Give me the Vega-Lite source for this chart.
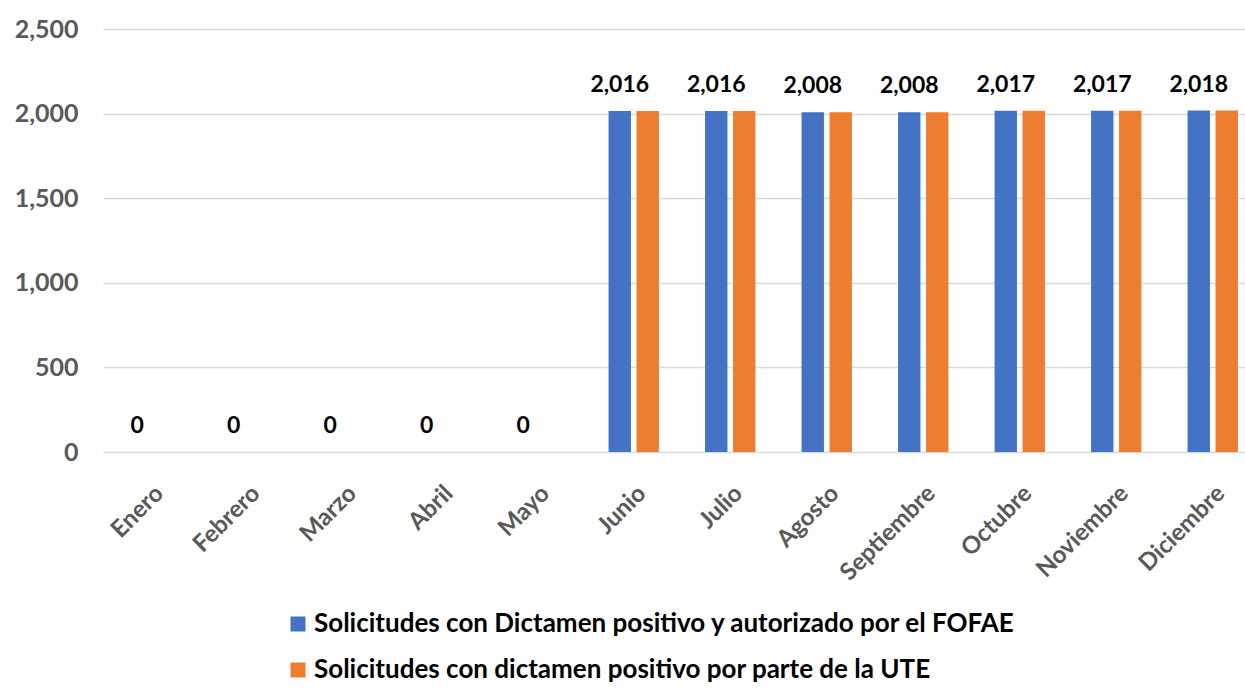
{
  "$schema": "https://vega.github.io/schema/vega-lite/v6.json",
  "width": 1158,
  "height": 423,
  "autosize": {"type": "none"},
  "padding": {"left": 103, "top": 29, "right": 0, "bottom": 236},
  "background": "white",
  "config": {
    "view": {"stroke": null},
    "font": "Lato"
  },
  "data": {
    "values": [
      {"mes": "Enero", "serie": "Solicitudes con Dictamen positivo y autorizado por el FOFAE", "valor": 0},
      {"mes": "Enero", "serie": "Solicitudes con dictamen positivo por parte de la UTE", "valor": 0},
      {"mes": "Febrero", "serie": "Solicitudes con Dictamen positivo y autorizado por el FOFAE", "valor": 0},
      {"mes": "Febrero", "serie": "Solicitudes con dictamen positivo por parte de la UTE", "valor": 0},
      {"mes": "Marzo", "serie": "Solicitudes con Dictamen positivo y autorizado por el FOFAE", "valor": 0},
      {"mes": "Marzo", "serie": "Solicitudes con dictamen positivo por parte de la UTE", "valor": 0},
      {"mes": "Abril", "serie": "Solicitudes con Dictamen positivo y autorizado por el FOFAE", "valor": 0},
      {"mes": "Abril", "serie": "Solicitudes con dictamen positivo por parte de la UTE", "valor": 0},
      {"mes": "Mayo", "serie": "Solicitudes con Dictamen positivo y autorizado por el FOFAE", "valor": 0},
      {"mes": "Mayo", "serie": "Solicitudes con dictamen positivo por parte de la UTE", "valor": 0},
      {"mes": "Junio", "serie": "Solicitudes con Dictamen positivo y autorizado por el FOFAE", "valor": 2016},
      {"mes": "Junio", "serie": "Solicitudes con dictamen positivo por parte de la UTE", "valor": 2016},
      {"mes": "Julio", "serie": "Solicitudes con Dictamen positivo y autorizado por el FOFAE", "valor": 2016},
      {"mes": "Julio", "serie": "Solicitudes con dictamen positivo por parte de la UTE", "valor": 2016},
      {"mes": "Agosto", "serie": "Solicitudes con Dictamen positivo y autorizado por el FOFAE", "valor": 2008},
      {"mes": "Agosto", "serie": "Solicitudes con dictamen positivo por parte de la UTE", "valor": 2008},
      {"mes": "Septiembre", "serie": "Solicitudes con Dictamen positivo y autorizado por el FOFAE", "valor": 2008},
      {"mes": "Septiembre", "serie": "Solicitudes con dictamen positivo por parte de la UTE", "valor": 2008},
      {"mes": "Octubre", "serie": "Solicitudes con Dictamen positivo y autorizado por el FOFAE", "valor": 2017},
      {"mes": "Octubre", "serie": "Solicitudes con dictamen positivo por parte de la UTE", "valor": 2017},
      {"mes": "Noviembre", "serie": "Solicitudes con Dictamen positivo y autorizado por el FOFAE", "valor": 2017},
      {"mes": "Noviembre", "serie": "Solicitudes con dictamen positivo por parte de la UTE", "valor": 2017},
      {"mes": "Diciembre", "serie": "Solicitudes con Dictamen positivo y autorizado por el FOFAE", "valor": 2018},
      {"mes": "Diciembre", "serie": "Solicitudes con dictamen positivo por parte de la UTE", "valor": 2018}
    ]
  },
  "encoding": {
    "x": {
      "field": "mes",
      "type": "nominal",
      "sort": null,
      "scale": {"paddingInner": 0.42, "paddingOuter": 0.21},
      "axis": {
        "title": null,
        "labelAngle": -45,
        "labelAlign": "right",
        "labelBaseline": "top",
        "labelFont": "Lato",
        "labelFontWeight": "bold",
        "labelFontSize": 24,
        "labelColor": "#595959",
        "labelPadding": 29,
        "ticks": false,
        "domain": false,
        "grid": false
      }
    },
    "xOffset": {
      "field": "serie",
      "type": "nominal",
      "sort": null,
      "scale": {
        "domain": ["Solicitudes con Dictamen positivo y autorizado por el FOFAE", "Solicitudes con dictamen positivo por parte de la UTE"],
        "paddingInner": 0.2,
        "paddingOuter": 0.1
      }
    },
    "y": {
      "field": "valor",
      "type": "quantitative",
      "scale": {"domain": [0, 2500]},
      "axis": {
        "title": null,
        "values": [0, 500, 1000, 1500, 2000, 2500],
        "format": ",d",
        "labelFont": "Lato",
        "labelFontWeight": "bold",
        "labelFontSize": 25,
        "labelColor": "#595959",
        "labelPadding": 25,
        "ticks": false,
        "domain": false,
        "gridColor": "#d9d9d9",
        "gridWidth": 1.5
      }
    }
  },
  "layer": [
    {
      "mark": {"type": "bar"},
      "encoding": {
        "color": {
          "field": "serie",
          "type": "nominal",
          "scale": {
            "domain": ["Solicitudes con Dictamen positivo y autorizado por el FOFAE", "Solicitudes con dictamen positivo por parte de la UTE"],
            "range": ["#4472C4", "#ED7D31"]
          },
          "legend": {
            "title": null,
            "orient": "none",
            "legendX": 182,
            "legendY": 582,
            "direction": "vertical",
            "symbolType": "square",
            "symbolSize": 225,
            "symbolStrokeWidth": 0,
            "labelFont": "Lato",
            "labelFontWeight": "bold",
            "labelFontSize": 26,
            "labelColor": "#000000",
            "labelLimit": 1000,
            "labelOffset": 3,
            "rowPadding": 20
          }
        }
      }
    },
    {
      "transform": [{"filter": "datum.serie === 'Solicitudes con Dictamen positivo y autorizado por el FOFAE'"}],
      "mark": {
        "type": "text",
        "baseline": "bottom",
        "dy": -14,
        "font": "Lato",
        "fontWeight": "bold",
        "fontSize": 23,
        "color": "#000000"
      },
      "encoding": {
        "text": {"field": "valor", "type": "quantitative", "format": ",d"}
      }
    }
  ]
}
